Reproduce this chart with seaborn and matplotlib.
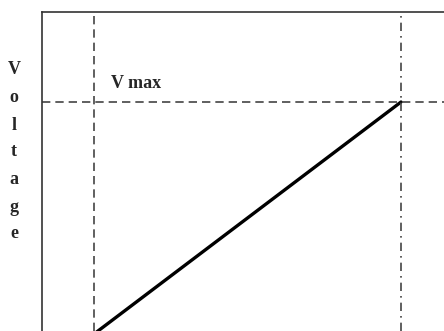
import matplotlib
matplotlib.use("Agg")
import matplotlib.pyplot as plt
import seaborn as sns
import pandas as pd

time_points = [0.0, 1.0]
voltage = [0.0, 1.0]
vmax_label = "V max"
ylabel_text = "Voltage"

sns.set_style("white")
plt.rcParams['font.family'] = ['Liberation Serif', 'DejaVu Serif']

fig = plt.figure(figsize=(4.44, 3.31), dpi=100)
ax = fig.add_axes([42/444, 0.0, 1 - 42/444, 1 - 12/331])

df = pd.DataFrame({"t": time_points, "v": voltage})
sns.lineplot(data=df, x="t", y="v", ax=ax, color="black", linewidth=2.4)

ax.set_xlim(-52/307, 350/307)
ax.set_ylim(3/232, 322/232)

ax.axvline(0, color="#444444", linewidth=1.2, linestyle=(0, (5, 3)))
ax.axvline(1, color="#444444", linewidth=1.2, linestyle=(0, (5, 3, 1, 3)))
ax.axhline(1, color="#444444", linewidth=1.2, linestyle=(0, (5, 3)))

ax.text(0.055, 1.045, vmax_label, fontsize=13, fontweight="bold", ha="left", va="bottom")

for side in ["right", "bottom"]:
    ax.spines[side].set_visible(False)
for side in ["left", "top"]:
    ax.spines[side].set_color("#333333")
    ax.spines[side].set_linewidth(1.2)

ax.set_xticks([])
ax.set_yticks([])
ax.set_xlabel("")
ax.set_ylabel("")

ys = [69, 97, 125, 152, 180, 208, 234]
for ch, y in zip(ylabel_text, ys):
    fig.text(14/444, 1 - y/331, ch, fontsize=13, fontweight="bold", ha="center", va="center")

fig.savefig("out.png", dpi=100)
